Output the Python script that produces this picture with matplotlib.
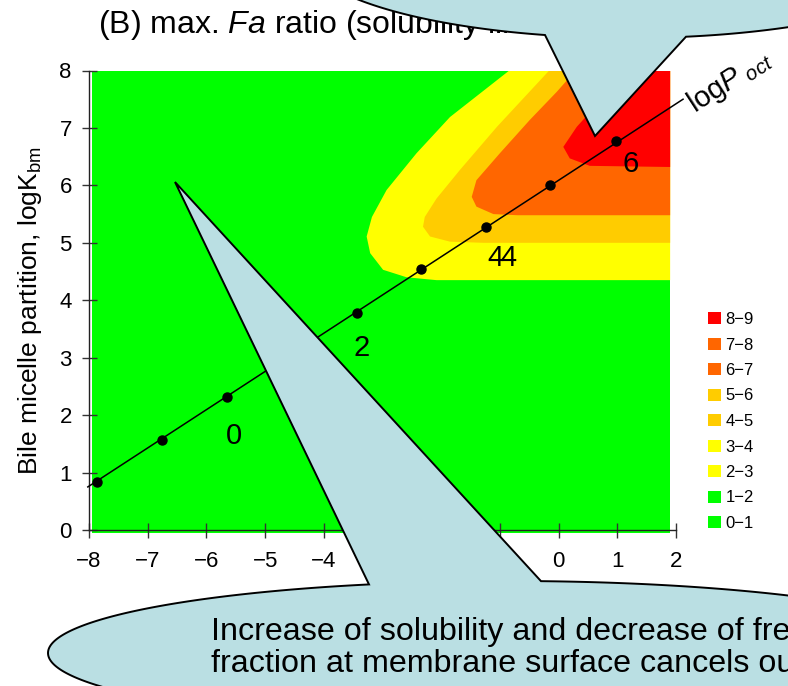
import numpy as np
import matplotlib
matplotlib.use("Agg")
import matplotlib.pyplot as plt
from matplotlib.patches import Patch, Polygon

plt.rcParams.update({"font.family": ["Liberation Sans", "DejaVu Sans"],
                     "mathtext.fontset": "custom",
                     "mathtext.rm": "Liberation Sans",
                     "mathtext.it": "Liberation Sans:italic",
                     "axes.unicode_minus": True})

W, H = 788, 686

# --- data (x axis value, logKbm) ---
field_x = [-7.95, 1.90]
field_y = [-0.05, 8.00]

# contour boundaries: top edge -> down the diagonal -> round the corner -> right edge
lvl2_x = [-0.84, -1.85, -2.42, -2.93, -3.18, -3.27, -3.21, -2.99, -2.59, -2.08, 1.90]
lvl2_y = [8.00, 7.19, 6.56, 5.92, 5.45, 5.11, 4.82, 4.53, 4.40, 4.35, 4.35]
lvl4_x = [-0.16, -1.05, -1.68, -2.08, -2.28, -2.31, -2.19, -1.85, -1.28, 1.90]
lvl4_y = [8.00, 7.02, 6.27, 5.77, 5.45, 5.28, 5.11, 5.02, 5.00, 5.00]
lvl6_x = [0.29, -0.03, -0.49, -1.00, -1.40, -1.48, -1.40, -1.11, -0.70, 1.90]
lvl6_y = [8.00, 7.63, 7.14, 6.56, 6.09, 5.80, 5.63, 5.50, 5.48, 5.48]
lvl8_x = [1.18, 0.31, 0.08, 0.19, 0.53, 1.90]
lvl8_y = [8.00, 7.02, 6.67, 6.47, 6.34, 6.32]
levels = [(lvl2_x, lvl2_y, "#FFFF00"), (lvl4_x, lvl4_y, "#FFCC00"),
          (lvl6_x, lvl6_y, "#FF6600"), (lvl8_x, lvl8_y, "#FF0000")]

legend_labels = ["8−9", "7−8", "6−7", "5−6", "4−5", "3−4", "2−3", "1−2", "0−1"]
legend_colors = ["#FF0000", "#FF6600", "#FF6600", "#FFCC00", "#FFCC00",
                 "#FFFF00", "#FFFF00", "#00FF00", "#00FF00"]

# logPoct line with one dot per unit of logP (-2 .. 6)
logp = [-2, -1, 0, 1, 2, 3, 4, 5, 6]
dot_x = [-7.87, -6.76, -5.65, -4.55, -3.44, -2.34, -1.24, -0.14, 0.97]
dot_y = [0.83, 1.57, 2.32, 3.05, 3.78, 4.54, 5.27, 6.00, 6.77]
line_x = [-8.02, 2.12]
line_y = [0.75, 7.50]
lab_text = ["0", "2", "4", "4", "6"]
lab_x = [-5.53, -3.35, -1.08, -0.86, 1.22]
lab_y = [1.64, 3.16, 4.74, 4.74, 6.37]

fig = plt.figure(figsize=(W / 100, H / 100), dpi=100)
ax = fig.add_axes([89 / W, 1 - 530 / H, 587 / W, 459.5 / H])

ax.fill_between(field_x, field_y[0], field_y[1], color="#00FF00", lw=0, clip_on=False, zorder=1)
for bx, by, col in levels:
    ax.fill(bx + [field_x[1]], by + [field_y[1]], color=col, lw=0, zorder=1)

ax.plot(line_x, line_y, color="black", lw=1.1, clip_on=False, zorder=4)
ax.plot(dot_x, dot_y, "o", color="black", ms=6.5, zorder=5)
for t, x, y in zip(lab_text, lab_x, lab_y):
    ax.text(x, y, t, fontsize=21, ha="center", va="center", zorder=5)
ax.text(2.31, 7.26, r"log$P_{\ oct}$", fontsize=21, rotation=33, rotation_mode="anchor",
        ha="left", va="baseline", clip_on=False)

ax.set_xlim(-8, 2)
ax.set_ylim(0, 8)
ax.set_xticks(range(-8, 3))
ax.set_yticks(range(0, 9))
for s in ["top", "right"]:
    ax.spines[s].set_visible(False)
for s in ["left", "bottom"]:
    ax.spines[s].set_color("#222222")
    ax.spines[s].set_linewidth(1.0)
    ax.spines[s].set_zorder(3)
ax.tick_params(direction="inout", length=10.8, width=1, color="#333333", labelsize=16)
ax.tick_params(axis="x", pad=10)
ax.tick_params(axis="y", pad=7)
ax.set_ylabel(r"Bile micelle partition, logK$_{\mathrm{bm}}$", fontsize=19)
ax.yaxis.set_label_coords(-0.077, 0.477)

fig.text(98 / W, 1 - 33 / H, r"(B) max. $\mathit{Fa}$ ratio (solubility limited)",
         fontsize=23, va="baseline")

handles = [Patch(fc=c, ec="none") for c in legend_colors]
fig.legend(handles, legend_labels, loc="upper left", bbox_to_anchor=(708 / W, 1 - 312 / H),
           frameon=False, fontsize=12, handlelength=0.75, handleheight=0.75,
           handletextpad=0.3, labelspacing=0.63, borderpad=0, borderaxespad=0)


def bubble(cx, cy, a, b, x1, x2, tip, below):
    # speech bubble in pixel coords (y down): ellipse with a pointer
    s = 1 if below else -1
    t1 = s * np.arccos((x1 - cx) / a)
    t2 = s * np.arccos((x2 - cx) / a)
    lo, hi = sorted([t1, t2])
    t = np.linspace(hi, lo + 2 * np.pi, 400)
    px = np.r_[cx + a * np.cos(t), tip[0]]
    py = np.r_[cy + b * np.sin(t), tip[1]]
    return Polygon(np.c_[px / W, 1 - py / H], closed=True, transform=fig.transFigure,
                   fc="#BADFE3", ec="black", lw=1.4, zorder=10)


fig.add_artist(bubble(630, -50, 329, 88, 545, 686, (595, 136), True))
fig.add_artist(bubble(510, 653, 462, 72, 369, 541, (175, 182), False))

fig.text(211 / W, 1 - 640 / H, "Increase of solubility and decrease of free",
         fontsize=23.2, va="baseline", zorder=11)
fig.text(211 / W, 1 - 672 / H, "fraction at membrane surface cancels out",
         fontsize=23.2, va="baseline", zorder=11)

fig.savefig("out.png", dpi=100)
